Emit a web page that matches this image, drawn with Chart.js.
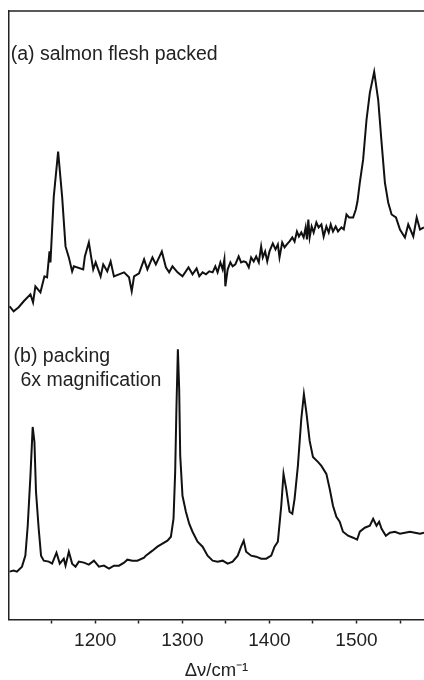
<!DOCTYPE html>
<html>
<head>
<meta charset="utf-8">
<script src="https://cdn.jsdelivr.net/npm/chart.js@4"></script>
<style>
  html, body { margin: 0; padding: 0; background: #fff; }
  #wrap { width: 424px; height: 680px; }
</style>
</head>
<body>
<div id="wrap"><canvas id="nchart"></canvas></div>
<script>
// (a) salmon flesh packed
let waveA = [1101.7,1106.3,1112.1,1117.9,1125.6,1128.6,1131.3,1137.1,1141.7,1144.7,1147.5,1148.6,1152.4,1157.4,1162,1165.9,1169.7,1173.5,1175.5,1186.2,1188.1,1192.7,1195.4,1197.7,1200.5,1206.2,1209.2,1213.8,1217.7,1221.5,1227.3,1233.1,1238.8,1241.9,1244.6,1250.3,1256.1,1259.9,1265.7,1269.6,1276.5,1281.1,1284.9,1288.7,1294.5,1300.2,1307.1,1311.7,1316.4,
    1319.5,1323.3,1327.2,1331,1334.8,1337.9,1340.5,1343.7,1346.3,1348.3,1349.4,1352.1,1355.2,1357.8,1360.9,1364.7,1367.5,1370.5,1373.3,1376.3,1379,1382,1384.8,1387.8,1390.5,1392.4,1395.1,1397.5,1400.1,1403.9,1407,1409.7,1411.6,1414.7,1417.4,1420,1423.1,1426.3,1428.9,1431.6,1433.9,1436.6,1439.3,1441.6,1443.1,1444.7,1446.2,1448.5,1450.8,1453.9,1456.5,1459.7,1462.3,1465.4,1468.1,1470.4,1473,1476.1,1478.8,1482.7,1485.4,1488.5,1491.5,1496.1,1499.2,1501.1,
    1503.8,1507.6,1511.5,1515.3,1520.3,1524.9,1528.8,1532.6,1536.4,1540.3,1545.3,1549.9,1555.6,1559.4,1565.2,1569.1,1572.9,1577.5]
let intensA = [314,309,313,319,326,318,334,328,344,343,369,358,424,469,424,374,363,349,354,351,364,378,363,351,358,344,356,349,359,344,346,348,343,329,344,347,361,351,363,356,369,353,348,354,348,344,353,346,352,
    344,348,346,349,348,354,348,358,351,361,334,351,358,354,356,364,358,359,358,353,363,359,364,358,374,363,369,359,369,377,371,376,363,378,373,376,379,383,379,389,384,388,383,393,381,401,383,394,388,398,393,396,384,394,388,396,389,394,389,393,391,406,403,403,411,419,
    438,461,501,528,549,521,478,438,418,406,403,391,383,396,384,403,391,393]

// (b) packing, 6x magnification
let waveB = [1101.7,1106.3,1110.1,1115.9,1119.8,1122.5,1125.6,1128.2,1130.2,1132,1135.1,1137.8,1140.9,1146.7,1150.5,1155.5,1159.3,1163.9,1165.9,1169.7,1173.5,1177.4,1181.2,1187,1192.7,1198.5,1204.3,1210,1215.8,1221.5,1227.3,1233.1,1236.9,1242.6,1248.4,1256.1,1258.1,1265.7,1271.4,1277.2,1282.9,1286.9,1289.9,1291.8,1293.3,1294.9,1296.4,1297.6,1300.2,1304.1,1307.9,1311.7,1317.5,1323.3,1329,1334.8,1340.5,1346.3,1352.1,1357.8,1363.6,1367.5,1370.5,1373.3,1379,1384.8,1390.5,1396.3,1402.1,1405.9,1409.7,1413.6,1416.2,1419.3,1423.1,1426.3,1428.9,1432.7,1436.6,1439.6,1442.4,1446.2,1450,1455.7,1459.7,1465.4,1469.2,1473,1476.9,1480.7,1484.5,1490.3,1496.1,1500.7,1503.8,1509.5,1515.3,1519.1,1523,1526,1528.8,1533.7,1538.3,1544.1,1549.9,1555.6,1561.4,1567.1,1572.9,1577.5]
let intensB = [48,49,48,53,64,94,144,193,178,128,91,64,59,58,56,67,56,61,54,68,56,53,58,57,55,59,53,54,51,54,54,57,60,59,59,62,64,69,73,76,79,83,101,148,214,271,231,164,124,108,96,88,78,73,64,59,58,59,56,58,64,73,79,68,64,63,61,61,64,73,78,114,146,131,108,106,121,154,201,226,208,179,163,158,154,146,131,114,103,98,88,84,82,80,88,92,94,101,94,98,91,84,87,88,86,87,88,87,86,87]

let xMin = 1101
let xMax = 1577.5
let xTicks = [1200, 1300, 1400, 1500]

let labels = [
    {text: '(a) salmon flesh packed', x: 1102.9, y: 566},
    {text: '(b) packing', x: 1106.3, y: 264},
    {text: ' 6x magnification', x: 1108, y: 239}
]

let font = 'Liberation Sans, Arial, sans-serif'

// top frame line + text labels inside the plot
let extras = {
    id: 'extras',
    afterDraw(chart) {
        let c = chart.ctx
        let area = chart.chartArea
        let sx = chart.scales.x
        let sy = chart.scales.y
        c.save()
        c.strokeStyle = '#222'
        c.lineWidth = 1.5
        c.beginPath()
        c.moveTo(area.left, area.top)
        c.lineTo(area.right, area.top)
        c.stroke()
        c.fillStyle = '#222'
        c.font = '19.5px ' + font
        c.textBaseline = 'middle'
        labels.forEach(l => {
            c.fillText(l.text, sx.getPixelForValue(l.x), sy.getPixelForValue(l.y))
        })
        c.restore()
    }
}

var ctx = document.getElementById('nchart')

var chartGraph = new Chart(ctx, {
    type: 'line',
    data: {
        datasets: [
            {
                label: '(a)',
                data: waveA.map((w, i) => ({x: w, y: intensA[i]})),
                borderColor: '#111',
                borderWidth: 2,
                pointRadius: 0,
                tension: 0
            },
            {
                label: '(b)',
                data: waveB.map((w, i) => ({x: w, y: intensB[i]})),
                borderColor: '#111',
                borderWidth: 2,
                pointRadius: 0,
                tension: 0
            }
        ]
    },
    options: {
        responsive: true,
        maintainAspectRatio: false,
        animation: false,
        layout: { padding: { left: 9, top: 11, right: 0, bottom: 0 } },
        plugins: {
            legend: { display: false },
            tooltip: { enabled: false }
        },
        scales: {
            x: {
                type: 'linear',
                min: xMin,
                max: xMax,
                border: { display: true, color: '#222', width: 1.5 },
                grid: { display: true, drawOnChartArea: false, drawTicks: true, tickLength: 4, tickColor: '#222', tickWidth: 1.5 },
                ticks: {
                    stepSize: 50,
                    includeBounds: false,
                    autoSkip: false,
                    maxRotation: 0,
                    padding: 8,
                    color: '#222',
                    font: { family: font, size: 19, lineHeight: 1 },
                    callback: v => xTicks.includes(v) ? v : ''
                },
                title: {
                    display: true,
                    text: 'Δν/cm⁻¹',
                    color: '#222',
                    font: { family: font, size: 18.5, lineHeight: 1 },
                    padding: { top: 3, bottom: 0 }
                }
            },
            y: {
                min: 0,
                max: 610,
                border: { display: true, color: '#222', width: 1.5 },
                grid: { display: true, drawOnChartArea: false, drawTicks: false },
                ticks: { display: false }
            }
        }
    },
    plugins: [extras]
})
</script>
</body>
</html>
